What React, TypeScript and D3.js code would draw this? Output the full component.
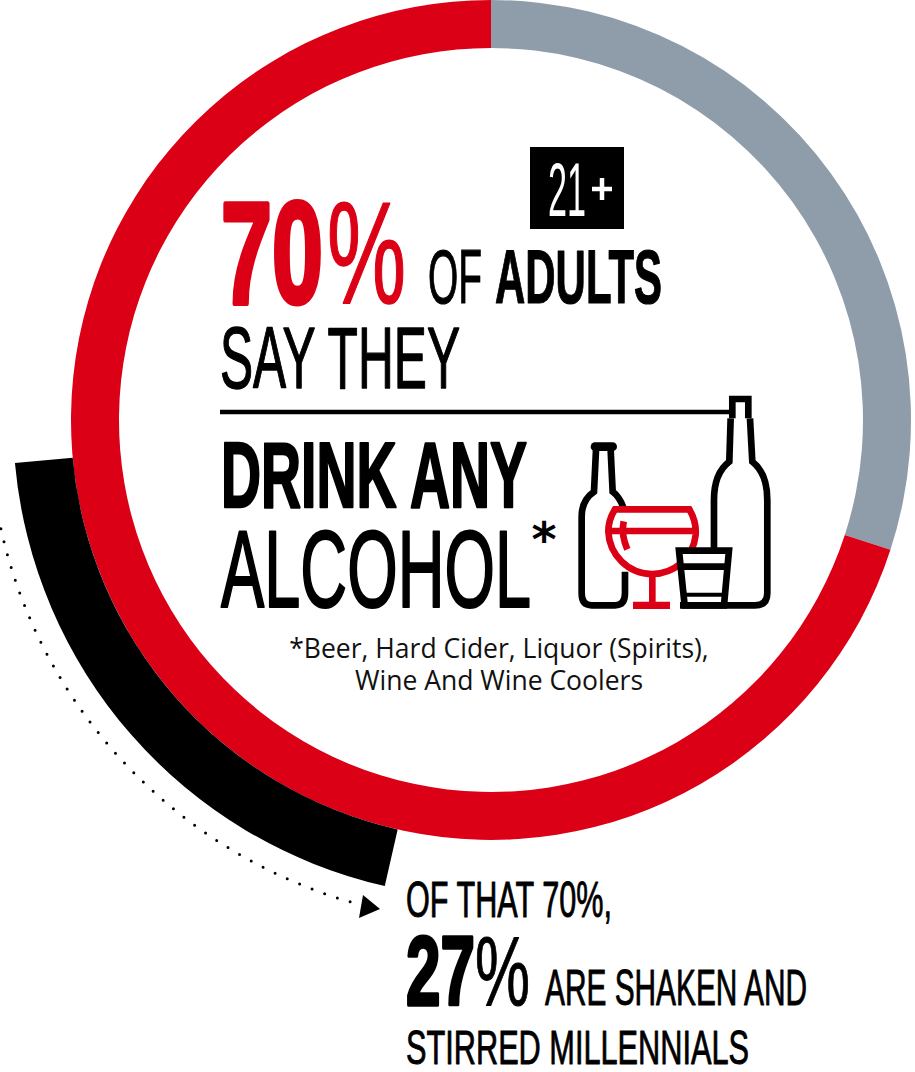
import React from "react";
import * as d3 from "d3";

// Share of adults who drink any alcohol, and the complement of the ring
const ringLabels = ["Drink any alcohol", "Do not drink"];
const ringValues = [70, 30];
const ringColors = ["#dc0017", "#8f9dab"];

// Share of the drinkers who are millennials, shown as the outer arc
const millennialShare = [27];

const WIDTH = 915;
const HEIGHT = 1072;
const CX = 491;
const CY = 420;
const NARROW = "'Liberation Sans Narrow', 'Liberation Sans', sans-serif";
const deg = (d: number) => (d * Math.PI) / 180;

type Run = { t: string; x0: number; x1: number; bold?: boolean; thick: number };
type Label = { runs: Run[]; top: number; base: number; fill?: string };

// Headline lines: each run is fitted between its left and right edges, the line
// between its cap line and baseline; `thick` is the extra outline that weights the glyphs
const labels: Label[] = [
  {
    top: 198,
    base: 303,
    fill: "#dc0017",
    runs: [
      { t: "70", x0: 221, x1: 323, bold: true, thick: 5 },
      { t: "%", x0: 327, x1: 406, thick: 1.5 },
    ],
  },
  {
    top: 248,
    base: 303,
    runs: [
      { t: "OF", x0: 428, x1: 482, thick: 1.2 },
      { t: "ADULTS", x0: 495, x1: 662, bold: true, thick: 1.2 },
    ],
  },
  { top: 325, base: 388, runs: [{ t: "SAY THEY", x0: 220, x1: 460, thick: 1.4 }] },
  { top: 439, base: 507, runs: [{ t: "DRINK ANY", x0: 221, x1: 527, bold: true, thick: 2.4 }] },
  { top: 527, base: 607, runs: [{ t: "ALCOHOL", x0: 221, x1: 531, thick: 2.2 }] },
  { top: 881, base: 917, runs: [{ t: "OF THAT 70%,", x0: 406, x1: 612, thick: 0.9 }] },
  {
    top: 933,
    base: 1005,
    runs: [
      { t: "27", x0: 406, x1: 475, bold: true, thick: 3.5 },
      { t: "%", x0: 475, x1: 530, thick: 1 },
    ],
  },
  { top: 969, base: 1005, runs: [{ t: "ARE SHAKEN AND", x0: 545, x1: 807, thick: 0.9 }] },
  { top: 1029, base: 1064, runs: [{ t: "STIRRED MILLENNIALS", x0: 406, x1: 749, thick: 0.9 }] },
  { top: 161, base: 216, fill: "#fff", runs: [{ t: "21", x0: 548, x1: 586, thick: 0 }] },
];

const footnoteLines = ["*Beer, Hard Cider, Liquor (Spirits),", "Wine And Wine Coolers"];

function FittedLine({ runs, top, base, fill }: Label) {
  const fontSize = (base - top) / 0.729;
  const color = fill ?? "#000";
  return (
    <text y={base} fontFamily={NARROW} fontSize={fontSize} fill={color} stroke={color} strokeLinejoin="round">
      {runs.map((r) => (
        <tspan
          key={r.t}
          x={r.x0}
          textLength={r.x1 - r.x0}
          lengthAdjust="spacingAndGlyphs"
          fontWeight={r.bold ? 700 : 400}
          strokeWidth={r.thick}
        >
          {r.t}
        </tspan>
      ))}
    </text>
  );
}

// Line-art bottles, goblet and tumbler, on a 3x grid
function DrinksIcon() {
  return (
    <g transform="translate(520,380) scale(0.3333)" fill="none" strokeWidth={20}>
      <g stroke="#000">
        <path d="M637 115V57H685V115" />
        <path d="M632 115L628 245Q582 280 582 360V505" />
        <path d="M690 115L697 245Q742 280 742 360V640Q742 676 705 676H480" />
        <path d="M225 200H278" strokeWidth={26} strokeLinecap="round" />
        <path d="M228 210L222 335Q185 360 185 410V640Q185 676 215 676H285Q315 676 315 640V575" />
        <path d="M272 210L278 335Q298 350 310 382" />
      </g>
      <g stroke="#dc0017">
        <path d="M285 388H508Q530 425 527 465C520 535 460 582 397 582C325 582 268 525 265 455Q265 420 285 388Z" />
        <path d="M265 453H530" />
        <path d="M311 424Q303 465 322 508" />
        <path d="M397 582V675" />
        <path d="M339 676H450" strokeWidth={22} />
      </g>
      <g stroke="#000">
        <path d="M477 512H627L612 676H494Z" fill="#fff" />
        <path d="M482 560H622" />
        <path d="M490 644H616" strokeWidth={12} />
      </g>
    </g>
  );
}

export default function App() {
  // The grey slice opens at 12 o'clock, the red one follows it clockwise
  const order = [1, 0];
  const slices = d3
    .pie<number>()
    .sort(null)(order.map((i) => ringValues[i]));
  const ringArc = d3.arc<d3.PieArcDatum<number>>().innerRadius(372).outerRadius(420);

  // Sweep of the outer arc per percentage point of the drinkers it stands for
  const sweep = d3.scaleLinear().domain([0, 100]).range([0, 266.7]);
  const arcEnd = 264.85;
  const outerArc = d3.arc()({
    innerRadius: 420,
    outerRadius: 478,
    startAngle: deg(arcEnd - sweep(millennialShare[0])),
    endAngle: deg(arcEnd),
  });

  const dotted = d3.path();
  dotted.arc(0, 0, 502, deg(106.3), deg(170), false);

  return (
    <svg
      width={WIDTH}
      height={HEIGHT}
      viewBox={`0 0 ${WIDTH} ${HEIGHT}`}
      style={{ position: "absolute", left: 0, top: 0, display: "block" }}
    >
      <rect width={WIDTH} height={HEIGHT} fill="#fff" />
      <g transform={`translate(${CX},${CY})`}>
        {slices.map((d, i) => (
          <path key={ringLabels[order[i]]} d={ringArc(d) ?? ""} fill={ringColors[order[i]]} />
        ))}
        <path d={outerArc ?? ""} fill="#000" />
        <path
          d={dotted.toString()}
          fill="none"
          stroke="#000"
          strokeWidth={3}
          strokeLinecap="round"
          strokeDasharray="0 13.4"
        />
      </g>
      <path d="M363 895L380 909L359 918Z" fill="#000" />

      <rect x={530} y={147} width={94} height={82} fill="#000" />
      <path d="M602 178V200M592 189H612" stroke="#fff" strokeWidth={4.5} />
      {labels.map((l) => (
        <FittedLine key={l.runs[0].t} {...l} />
      ))}
      <line x1={220} x2={732} y1={412} y2={412} stroke="#000" strokeWidth={4.5} />
      <text x={544} y={556} textAnchor="middle" fontFamily="'DejaVu Sans', sans-serif" fontWeight={700} fontSize={48}>
        *
      </text>
      <DrinksIcon />

      {footnoteLines.map((line, i) => (
        <text
          key={line}
          x={499}
          y={658 + i * 32}
          textAnchor="middle"
          fontFamily="'Open Sans', sans-serif"
          fontSize={26.5}
          fill="#111"
        >
          {line}
        </text>
      ))}
    </svg>
  );
}
